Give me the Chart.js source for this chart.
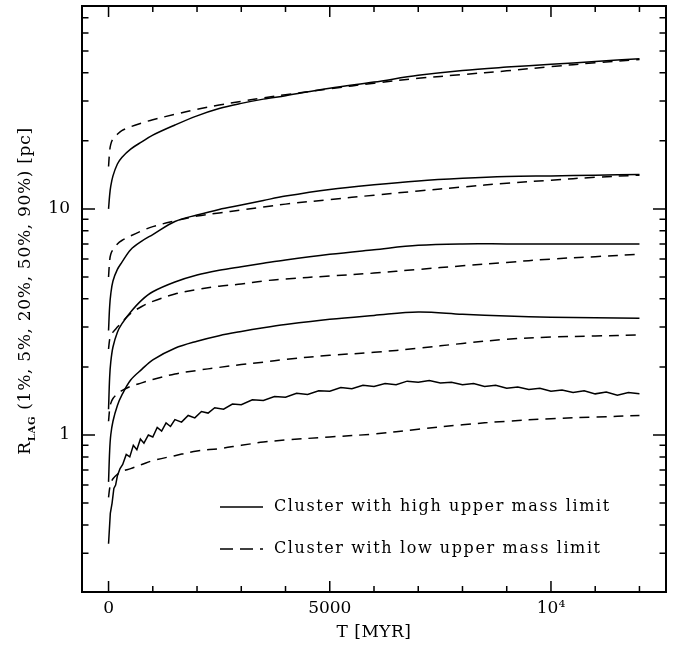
<!DOCTYPE html>
<html>
<head>
<meta charset="utf-8">
<script src="https://cdn.jsdelivr.net/npm/chart.js@4.4.1/dist/chart.umd.min.js"></script>
<style>
  html, body { margin: 0; padding: 0; background: #fff; }
  canvas { display: block; }
</style>
</head>
<body>
<canvas id="c" width="673" height="651"></canvas>
<script>
// time samples in Myr
const T = [0, 25, 50, 100, 200, 300, 500, 750, 1000, 1500, 2000, 2500, 3000, 3500, 4000, 5000, 6000, 7000, 8000, 9000, 10000, 11000, 12000];

// cluster with high upper mass limit (solid)
const high90 = [10, 11.5, 12.6, 14.0, 15.8, 16.9, 18.4, 19.8, 21.2, 23.5, 25.8, 27.8, 29.3, 30.6, 31.7, 34.2, 36.4, 39.0, 41.0, 42.4, 43.6, 44.9, 46.2];
const high50 = [2.9, 3.7, 4.2, 4.8, 5.4, 5.8, 6.6, 7.2, 7.7, 8.8, 9.4, 9.95, 10.4, 10.9, 11.4, 12.2, 12.8, 13.3, 13.65, 13.9, 14.0, 14.1, 14.2];
const high20 = [1.3, 1.8, 2.1, 2.45, 2.85, 3.1, 3.5, 3.95, 4.3, 4.75, 5.1, 5.35, 5.55, 5.75, 5.95, 6.3, 6.6, 6.9, 7.0, 7.0, 7.0, 7.0, 7.0];
const high5 = [0.62, 0.85, 1.0, 1.15, 1.35, 1.5, 1.75, 1.95, 2.15, 2.42, 2.6, 2.75, 2.87, 2.98, 3.08, 3.25, 3.38, 3.5, 3.42, 3.36, 3.32, 3.3, 3.28];

// the 1% radius is noisy, so it gets its own finer time samples
const T1 = [0, 40, 80, 120, 160, 200, 260, 320, 400, 480, 560, 640, 720, 800,
  900, 1000, 1100, 1200, 1300, 1400, 1500, 1650, 1800, 1950, 2100, 2250, 2400,
  2600, 2800, 3000, 3250, 3500, 3750, 4000, 4250, 4500, 4750, 5000, 5250, 5500,
  5750, 6000, 6250, 6500, 6750, 7000, 7250, 7500, 7750, 8000, 8250, 8500, 8750,
  9000, 9250, 9500, 9750, 10000, 10250, 10500, 10750, 11000, 11250, 11500, 11750, 12000];
const high1 = [0.33, 0.45, 0.50, 0.58, 0.60, 0.66, 0.71, 0.74, 0.82, 0.80, 0.90, 0.86, 0.96, 0.92,
  1.00, 0.98, 1.08, 1.04, 1.13, 1.09, 1.17, 1.14, 1.22, 1.19, 1.27, 1.25, 1.32,
  1.30, 1.37, 1.36, 1.43, 1.42, 1.48, 1.47, 1.53, 1.51, 1.57, 1.56, 1.62, 1.60,
  1.66, 1.64, 1.69, 1.67, 1.73, 1.71, 1.74, 1.70, 1.71, 1.67, 1.69, 1.64, 1.66,
  1.61, 1.63, 1.59, 1.61, 1.56, 1.58, 1.54, 1.57, 1.52, 1.55, 1.50, 1.54, 1.52];

// cluster with low upper mass limit (dashed)
const low90 = [15.4, 18.0, 19.3, 20.4, 21.4, 22.2, 23.1, 24.0, 24.8, 26.2, 27.6, 28.8, 29.9, 31.0, 32.0, 34.0, 36.0, 37.8, 39.3, 40.8, 42.6, 44.3, 45.8];
const low50 = [5.0, 5.9, 6.3, 6.6, 7.0, 7.25, 7.6, 8.0, 8.35, 8.85, 9.3, 9.6, 9.9, 10.2, 10.5, 11.0, 11.5, 12.0, 12.5, 13.0, 13.4, 13.8, 14.1];
const low20 = [2.4, 2.65, 2.75, 2.85, 3.0, 3.15, 3.45, 3.7, 3.9, 4.2, 4.4, 4.55, 4.65, 4.8, 4.9, 5.05, 5.2, 5.4, 5.6, 5.8, 6.0, 6.15, 6.3];
const low5 = [1.15, 1.3, 1.38, 1.45, 1.52, 1.57, 1.64, 1.7, 1.76, 1.86, 1.93, 1.99, 2.05, 2.1, 2.16, 2.25, 2.32, 2.42, 2.54, 2.65, 2.71, 2.74, 2.77];
const low1 = [0.53, 0.58, 0.61, 0.64, 0.67, 0.69, 0.71, 0.74, 0.77, 0.81, 0.85, 0.87, 0.9, 0.93, 0.95, 0.98, 1.01, 1.06, 1.11, 1.15, 1.18, 1.2, 1.22];

// axis ticks
const xLabelTicks = [0, 5000, 10000];
const xMinorTicks = [0, 1000, 2000, 3000, 4000, 5000, 6000, 7000, 8000, 9000, 10000, 11000, 12000];
const yLabelTicks = [1, 10];
const yMinorTicks = [0.3, 0.4, 0.5, 0.6, 0.7, 0.8, 0.9, 1, 2, 3, 4, 5, 6, 7, 8, 9, 10, 20, 30, 40, 50, 60, 70];

const legendLabels = ['Cluster with high upper mass limit', 'Cluster with low upper mass limit'];

const SERIF = "'DejaVu Serif', serif";
const DASH = [10, 7];

function pts(ts, vs) {
    return ts.map((t, i) => ({ x: t, y: vs[i] }));
}

function line(ts, vs, dashed) {
    return {
        data: pts(ts, vs),
        borderColor: '#000',
        borderWidth: 1.5,
        borderDash: dashed ? DASH : [],
        pointRadius: 0,
        tension: ts === T1 ? 0 : 0.35,
        fill: false
    };
}

const datasets = [
    line(T, high90, false), line(T, high50, false), line(T, high20, false), line(T, high5, false), line(T1, high1, false),
    line(T, low90, true), line(T, low50, true), line(T, low20, true), line(T, low5, true), line(T, low1, true)
];

// frame, inward ticks on all four sides, axis titles and legend
const decorations = {
    id: 'decorations',
    afterDraw(chart) {
        const { ctx, chartArea: a, scales: { x, y } } = chart;
        ctx.save();
        ctx.strokeStyle = '#000';
        ctx.fillStyle = '#000';

        ctx.lineWidth = 1.5;
        ctx.beginPath();
        xMinorTicks.forEach(v => {
            const p = x.getPixelForValue(v);
            const len = xLabelTicks.includes(v) ? 11 : 6;
            ctx.moveTo(p, a.bottom); ctx.lineTo(p, a.bottom - len);
            ctx.moveTo(p, a.top); ctx.lineTo(p, a.top + len);
        });
        yMinorTicks.forEach(v => {
            const p = y.getPixelForValue(v);
            const len = yLabelTicks.includes(v) ? 13 : 6.5;
            ctx.moveTo(a.left, p); ctx.lineTo(a.left + len, p);
            ctx.moveTo(a.right, p); ctx.lineTo(a.right - len, p);
        });
        ctx.stroke();

        ctx.lineWidth = 2;
        ctx.strokeRect(a.left, a.top, a.right - a.left, a.bottom - a.top);

        // x title
        ctx.font = '17px ' + SERIF;
        ctx.letterSpacing = '0.5px';
        ctx.textAlign = 'center';
        ctx.textBaseline = 'alphabetic';
        ctx.fillText('T [MYR]', (a.left + a.right) / 2, 637);

        // y title, rotated, with subscript
        const main1 = 'R';
        const sub = 'LAG';
        const rest = ' (1%, 5%, 20%, 50%, 90%) [pc]';
        ctx.letterSpacing = '0.7px';
        ctx.font = '17px ' + SERIF;
        const w1 = ctx.measureText(main1).width;
        const w3 = ctx.measureText(rest).width;
        ctx.font = 'bold 10px ' + SERIF;
        const w2 = ctx.measureText(sub).width;
        const total = w1 + w2 + w3;
        ctx.translate(30, 291);
        ctx.rotate(-Math.PI / 2);
        ctx.textAlign = 'left';
        let cx = -total / 2;
        ctx.font = '17px ' + SERIF;
        ctx.fillText(main1, cx, 0);
        cx += w1;
        ctx.font = 'bold 10px ' + SERIF;
        ctx.fillText(sub, cx, 5);
        cx += w2;
        ctx.font = '17px ' + SERIF;
        ctx.fillText(rest, cx, 0);
        ctx.setTransform(1, 0, 0, 1, 0, 0);

        // legend
        const rows = [507, 549];
        ctx.lineWidth = 1.5;
        ctx.letterSpacing = '1.6px';
        rows.forEach((ry, i) => {
            ctx.setLineDash(i === 0 ? [] : [13, 7]);
            ctx.beginPath();
            ctx.moveTo(220, ry); ctx.lineTo(263, ry);
            ctx.stroke();
            ctx.setLineDash([]);
            ctx.font = '16px ' + SERIF;
            ctx.textAlign = 'left';
            ctx.textBaseline = 'middle';
            ctx.fillText(legendLabels[i], 274, ry);
        });
        ctx.restore();
    }
};

new Chart(document.getElementById('c'), {
    type: 'line',
    data: { datasets },
    options: {
        responsive: false,
        animation: false,
        events: [],
        layout: { padding: { top: 6, right: 7, left: 0, bottom: 0 } },
        plugins: { legend: { display: false }, tooltip: { enabled: false } },
        scales: {
            x: {
                type: 'linear',
                min: -600,
                max: 12600,
                afterFit(scale) {
                    scale.height = 59;
                    scale.paddingLeft = 0;
                    scale.paddingRight = 0;
                },
                afterBuildTicks(scale) { scale.ticks = xLabelTicks.map(v => ({ value: v })); },
                grid: { display: false, drawTicks: false },
                border: { display: false },
                ticks: {
                    autoSkip: false,
                    maxRotation: 0,
                    padding: 6,
                    color: '#000',
                    font: { family: SERIF, size: 17 },
                    callback: v => v === 10000 ? '10⁴' : String(v)
                }
            },
            y: {
                type: 'logarithmic',
                min: 0.202,
                max: 79,
                afterFit(scale) {
                    scale.width = 82;
                    scale.paddingTop = 0;
                    scale.paddingBottom = 0;
                },
                afterBuildTicks(scale) { scale.ticks = yLabelTicks.map(v => ({ value: v })); },
                grid: { display: false, drawTicks: false },
                border: { display: false },
                ticks: {
                    autoSkip: false,
                    padding: 12,
                    color: '#000',
                    font: { family: SERIF, size: 17 },
                    callback: v => String(v)
                }
            }
        }
    },
    plugins: [decorations]
});
</script>
</body>
</html>
